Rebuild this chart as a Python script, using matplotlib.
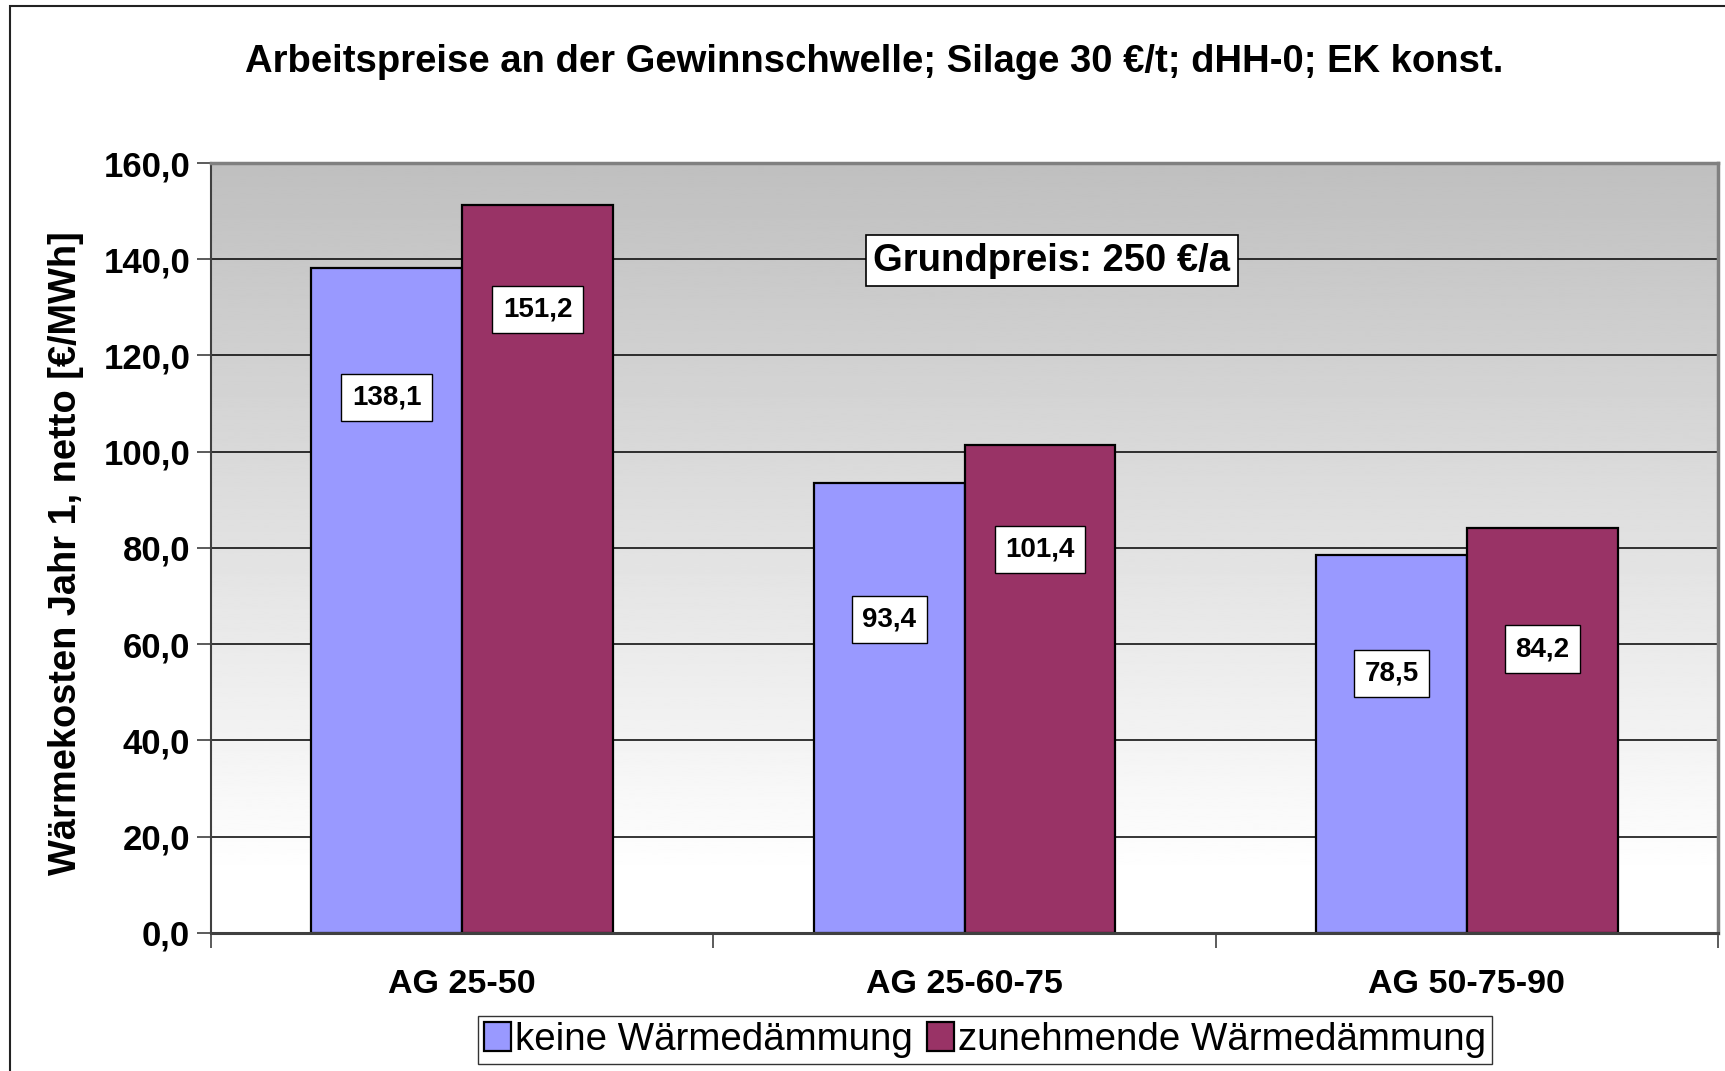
import numpy as np
import matplotlib
matplotlib.use("Agg")
import matplotlib.pyplot as plt
from matplotlib.patches import Rectangle

plt.rcParams['font.family'] = ['Liberation Sans', 'DejaVu Sans']

# Daten
kategorien = ["AG 25-50", "AG 25-60-75", "AG 50-75-90"]
keine_daemmung = [138.1, 93.4, 78.5]
zunehmende_daemmung = [151.2, 101.4, 84.2]
serien = ["keine Wärmedämmung", "zunehmende Wärmedämmung"]
# Hoehe der Beschriftungskaesten (wie im Original verschoben)
label_y_keine = [111.3, 65.2, 54.0]
label_y_zun = [129.5, 79.6, 59.0]
y_ticks = [0, 20, 40, 60, 80, 100, 120, 140, 160]

fig = plt.figure(figsize=(17.25, 10.71), dpi=100)
ax = fig.add_axes([0.1223, 0.1289, 0.8737, 0.7189])

x = np.arange(len(kategorien))
w = 0.3

# Hintergrund mit Verlauf grau -> weiss
rows = np.linspace(160, 0, 400)
grad = np.interp(rows, [0, 12, 160], [1.0, 1.0, 0.75])
ax.imshow(grad[:, None], extent=[-0.5, 2.5, 0, 160], aspect='auto',
          cmap='gray', vmin=0, vmax=1, zorder=0, interpolation='bilinear')

ax.bar(x - w / 2, keine_daemmung, w, color='#9999ff', edgecolor='black',
       linewidth=1.6, label=serien[0], zorder=3)
ax.bar(x + w / 2, zunehmende_daemmung, w, color='#993366', edgecolor='black',
       linewidth=1.6, label=serien[1], zorder=3)

box = dict(boxstyle='square,pad=0.38', facecolor='white', edgecolor='black', linewidth=1.0)
for i in range(len(kategorien)):
    ax.text(x[i] - w / 2, label_y_keine[i], f"{keine_daemmung[i]:.1f}".replace('.', ','),
            ha='center', va='center', fontsize=20, fontweight='bold', bbox=box, zorder=4)
    ax.text(x[i] + w / 2, label_y_zun[i], f"{zunehmende_daemmung[i]:.1f}".replace('.', ','),
            ha='center', va='center', fontsize=20, fontweight='bold', bbox=box, zorder=4)

ax.text(0.558, 0.873, "Grundpreis: 250 €/a", transform=ax.transAxes,
        ha='center', va='center', fontsize=27.5, fontweight='bold', zorder=4,
        bbox=dict(boxstyle='square,pad=0.2', facecolor='white', edgecolor='black', linewidth=1.2))

ax.set_xlim(-0.5, 2.5)
ax.set_ylim(0, 160)
ax.set_yticks(y_ticks)
ax.set_yticklabels([f"{v:.1f}".replace('.', ',') for v in y_ticks], fontsize=25, fontweight='bold')
ax.yaxis.grid(True, color='black', linewidth=1.1, zorder=1)

ax.set_xticks(x)
ax.set_xticklabels(kategorien, fontsize=24.5, fontweight='bold')
ax.set_xticks([-0.5, 0.5, 1.5, 2.5], minor=True)
ax.tick_params(axis='x', which='major', length=0, pad=26)
ax.tick_params(axis='x', which='minor', length=11, width=1.2, color='#404040')
ax.tick_params(axis='y', length=10, width=1.2, color='#404040', pad=5)

ax.set_ylabel("Wärmekosten Jahr 1, netto [€/MWh]", fontsize=27.4, fontweight='bold')
ax.yaxis.set_label_coords(-0.084, 0.4935)

for s in ['top', 'right']:
    ax.spines[s].set_color('#808080')
    ax.spines[s].set_linewidth(2.5)
ax.spines['left'].set_color('#404040')
ax.spines['left'].set_linewidth(1.5)
ax.spines['bottom'].set_color('#404040')
ax.spines['bottom'].set_linewidth(2.2)
for s in ax.spines.values():
    s.set_zorder(5)

fig.text(0.507, 0.942, "Arbeitspreise an der Gewinnschwelle; Silage 30 €/t; dHH-0; EK konst.",
         ha='center', va='center', fontsize=27.5, fontweight='bold')

leg = fig.legend(loc='center', bbox_to_anchor=(0.571, 0.029), ncol=2, fontsize=27.7,
                 frameon=True, fancybox=False, shadow=False, edgecolor='black',
                 handlelength=0.7, handleheight=0.75, handletextpad=0.12,
                 columnspacing=0.35, borderpad=0.15, borderaxespad=0)
leg.get_frame().set_linewidth(1.0)

# Rahmen um das Diagramm
fig.patches.append(Rectangle((0.006, -0.01), 1.0, 1.0044, transform=fig.transFigure,
                             fill=False, edgecolor='#222222', linewidth=1.5))

fig.savefig("out.png", dpi=100)
